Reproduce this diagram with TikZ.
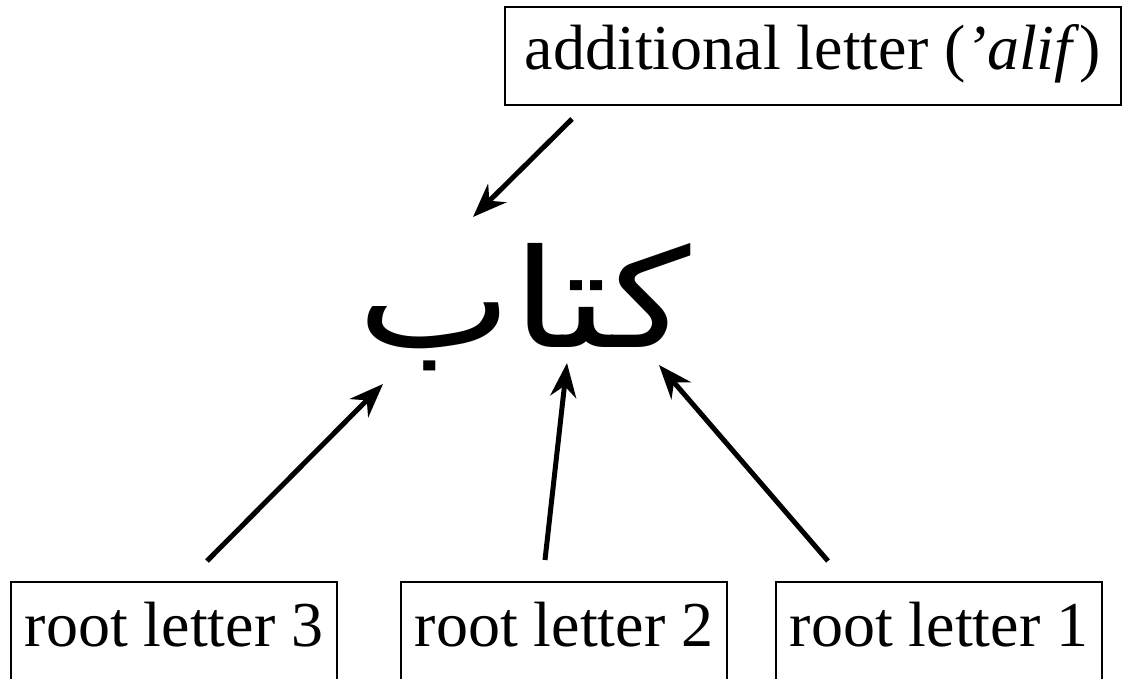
\documentclass[tikz,border=0pt]{standalone}
\usepackage{fontspec}
\setmainfont{Liberation Serif}
\newfontfamily\arabicfont[Script=Arabic]{DejaVu Sans}
\TeXXeTstate=1
\usetikzlibrary{arrows.meta}
\tikzset{
  labelbox/.style={draw, line width=2pt, inner sep=0pt, anchor=base, align=center,
    font=\fontsize{64}{70}\selectfont, text height=64pt, text depth=34pt},
  pointer/.style={line width=5pt, -{Stealth[length=34pt,width=26pt,inset=11pt]}},
}
\begin{document}
\begin{tikzpicture}[x=1pt,y=-1pt]
\useasboundingbox (0,0) rectangle (1125,679);
\node[labelbox, minimum width=616pt, text height=63pt, text depth=35pt] (add) at (813,70) {additional letter (\textit{’alif})};
\node[labelbox, minimum width=326pt] (r3) at (174,646) {root letter 3};
\node[labelbox, minimum width=326pt] (r2) at (564,646) {root letter 2};
\node[labelbox, minimum width=326pt] (r1) at (939,646) {root letter 1};
\node[anchor=base, inner sep=0pt, xscale=1.2, font=\fontsize{137}{150}\selectfont] (word) at (524,347) {\arabicfont\beginR كتاب\endR};
\coordinate (a0) at (572,119);
\coordinate (a1) at (473,217);
\coordinate (b0) at (207,561);
\coordinate (b1) at (383,384);
\coordinate (c0) at (545,560);
\coordinate (c1) at (567,363);
\coordinate (d0) at (828,561);
\coordinate (d1) at (659,365);
\draw[pointer] (a0) -- (a1);
\draw[pointer] (b0) -- (b1);
\draw[pointer] (c0) -- (c1);
\draw[pointer] (d0) -- (d1);
\end{tikzpicture}
\end{document}
